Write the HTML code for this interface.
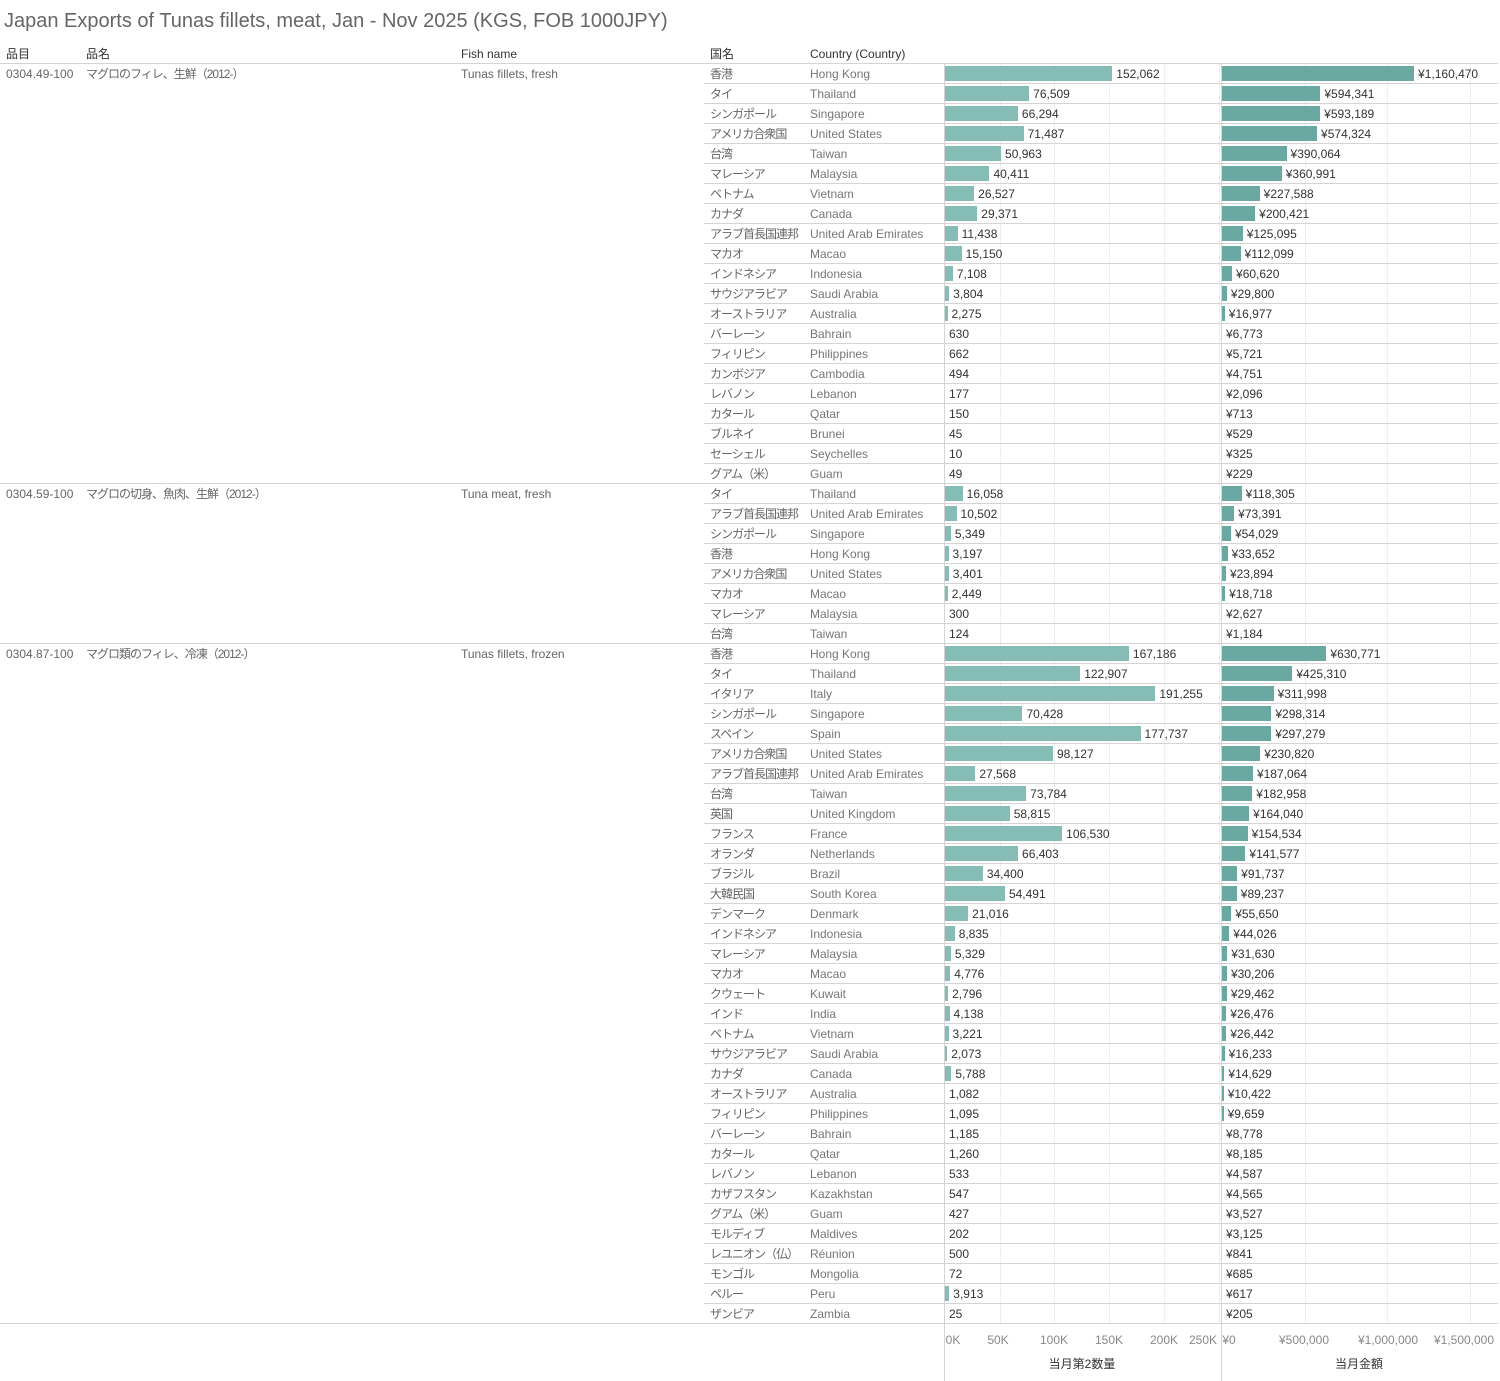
<!DOCTYPE html>
<html><head><meta charset="utf-8"><style>
body{margin:0;width:1500px;height:1381px;background:#fff;font-family:"Liberation Sans","Noto Sans CJK JP",sans-serif;overflow:hidden;position:relative}
.t{position:absolute;white-space:nowrap;font-size:12px;color:#666;line-height:14px}
.j{letter-spacing:-1px}
.h{color:#333}
.ln{position:absolute;background:#d4d4d4;height:1px}
.vl{position:absolute;width:1px;background:#d4d4d4}
.gl{position:absolute;width:1px;background:#eeeeee}
.b1{position:absolute;background:#86bcb6;height:15px}
.b2{position:absolute;background:#6aa8a2;height:15px}
</style></head><body>
<div class="t" style="left:4px;top:8px;font-size:20px;line-height:26px;color:#666">Japan Exports of Tunas fillets, meat, Jan - Nov 2025 (KGS, FOB 1000JPY)</div>
<div class="t h" style="left:6px;top:47px">品目</div>
<div class="t h" style="left:86px;top:47px">品名</div>
<div class="t h" style="left:461px;top:47px">Fish name</div>
<div class="t h" style="left:710px;top:47px">国名</div>
<div class="t h" style="left:810px;top:47px">Country (Country)</div>
<div id="c"></div>
<script>
const G=[
["0304.49-100","マグロのフィレ、生鮮（2012-）","Tunas fillets, fresh",[
["香港","Hong Kong",152062,1160470],["タイ","Thailand",76509,594341],["シンガポール","Singapore",66294,593189],["アメリカ合衆国","United States",71487,574324],["台湾","Taiwan",50963,390064],["マレーシア","Malaysia",40411,360991],["ベトナム","Vietnam",26527,227588],["カナダ","Canada",29371,200421],["アラブ首長国連邦","United Arab Emirates",11438,125095],["マカオ","Macao",15150,112099],["インドネシア","Indonesia",7108,60620],["サウジアラビア","Saudi Arabia",3804,29800],["オーストラリア","Australia",2275,16977],["バーレーン","Bahrain",630,6773],["フィリピン","Philippines",662,5721],["カンボジア","Cambodia",494,4751],["レバノン","Lebanon",177,2096],["カタール","Qatar",150,713],["ブルネイ","Brunei",45,529],["セーシェル","Seychelles",10,325],["グアム（米）","Guam",49,229]]],
["0304.59-100","マグロの切身、魚肉、生鮮（2012-）","Tuna meat, fresh",[
["タイ","Thailand",16058,118305],["アラブ首長国連邦","United Arab Emirates",10502,73391],["シンガポール","Singapore",5349,54029],["香港","Hong Kong",3197,33652],["アメリカ合衆国","United States",3401,23894],["マカオ","Macao",2449,18718],["マレーシア","Malaysia",300,2627],["台湾","Taiwan",124,1184]]],
["0304.87-100","マグロ類のフィレ、冷凍（2012-）","Tunas fillets, frozen",[
["香港","Hong Kong",167186,630771],["タイ","Thailand",122907,425310],["イタリア","Italy",191255,311998],["シンガポール","Singapore",70428,298314],["スペイン","Spain",177737,297279],["アメリカ合衆国","United States",98127,230820],["アラブ首長国連邦","United Arab Emirates",27568,187064],["台湾","Taiwan",73784,182958],["英国","United Kingdom",58815,164040],["フランス","France",106530,154534],["オランダ","Netherlands",66403,141577],["ブラジル","Brazil",34400,91737],["大韓民国","South Korea",54491,89237],["デンマーク","Denmark",21016,55650],["インドネシア","Indonesia",8835,44026],["マレーシア","Malaysia",5329,31630],["マカオ","Macao",4776,30206],["クウェート","Kuwait",2796,29462],["インド","India",4138,26476],["ベトナム","Vietnam",3221,26442],["サウジアラビア","Saudi Arabia",2073,16233],["カナダ","Canada",5788,14629],["オーストラリア","Australia",1082,10422],["フィリピン","Philippines",1095,9659],["バーレーン","Bahrain",1185,8778],["カタール","Qatar",1260,8185],["レバノン","Lebanon",533,4587],["カザフスタン","Kazakhstan",547,4565],["グアム（米）","Guam",427,3527],["モルディブ","Maldives",202,3125],["レユニオン（仏）","Réunion",500,841],["モンゴル","Mongolia",72,685],["ペルー","Peru",3913,617],["ザンビア","Zambia",25,205]]]];
let h='';const f=n=>n.toLocaleString('en-US');
for(const x of [1000,1054,1109,1164,1219])h+=`<div class="gl" style="left:${x}px;top:63px;height:1260px"></div>`;
for(const x of [1305,1387,1470])h+=`<div class="gl" style="left:${x}px;top:63px;height:1260px"></div>`;
h+=`<div class="ln" style="left:0;top:63px;width:1498px"></div>`;
let y=63;
for(const g of G){
 h+=`<div class="t" style="left:6px;top:${y+4}px">${g[0]}</div><div class="t j" style="left:86px;top:${y+4}px">${g[1]}</div><div class="t" style="left:461px;top:${y+4}px">${g[2]}</div>`;
 g[3].forEach((r,i)=>{
  if(i>0)h+=`<div class="ln" style="left:704px;top:${y}px;width:794px"></div>`;
  const w1=Math.max(r[2]*0.0011,1.2),w2=Math.max(r[3]*0.0001655,1.2);
  if(r[2]>=1500)h+=`<div class="b1" style="left:945px;top:${y+3}px;width:${w1}px"></div>`;
  if(r[3]>=9000)h+=`<div class="b2" style="left:1222px;top:${y+3}px;width:${w2}px"></div>`;
  const l1=945+(r[2]>=1500?w1:0)+4,l2=1222+(r[3]>=9000?w2:0)+4;
  h+=`<div class="t j" style="left:710px;top:${y+4}px">${r[0]}</div><div class="t" style="left:810px;top:${y+4}px;color:#777">${r[1]}</div>`;
  h+=`<div class="t h" style="left:${l1}px;top:${y+4}px;color:#333">${f(r[2])}</div><div class="t h" style="left:${l2}px;top:${y+4}px;color:#333">¥${f(r[3])}</div>`;
  y+=20;});
 h+=`<div class="ln" style="left:0;top:${y}px;width:1498px"></div>`;
}
h+=`<div class="vl" style="left:944px;top:63px;height:1318px"></div><div class="vl" style="left:1221px;top:63px;height:1318px"></div>`;
const ax=[["0K",953],["50K",998],["100K",1054],["150K",1109],["200K",1164],["250K",1203],["¥0",1229],["¥500,000",1304],["¥1,000,000",1388],["¥1,500,000",1464]];
for(const a of ax)h+=`<div class="t" style="left:${a[1]}px;top:1333px;transform:translateX(-50%);color:#888">${a[0]}</div>`;
h+=`<div class="t h" style="left:1082px;top:1357px;transform:translateX(-50%)">当月第2数量</div><div class="t h" style="left:1359px;top:1357px;transform:translateX(-50%)">当月金額</div>`;
document.getElementById('c').innerHTML=h;
</script>
</body></html>
